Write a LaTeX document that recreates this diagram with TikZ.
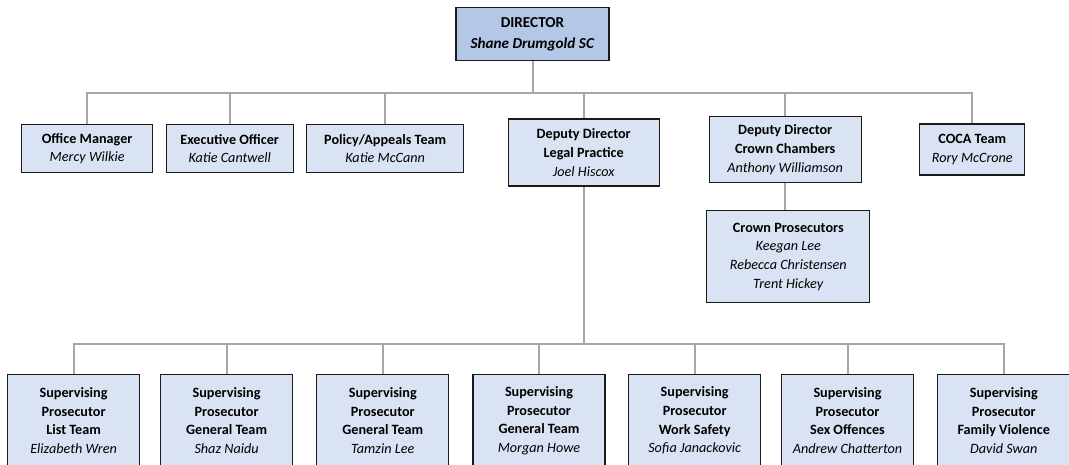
\documentclass[tikz,border=0pt]{standalone}
\usepackage{fontspec}
\setmainfont{Carlito}
\usepackage{xcolor}
\usepackage{tikz}
\usetikzlibrary{positioning,calc}
\definecolor{OrgHead}{HTML}{B4C7E7}
\definecolor{OrgFill}{HTML}{DAE3F3}
\definecolor{OrgLine}{HTML}{A6A6A6}
\definecolor{OrgEdge}{HTML}{1A1A1A}

\begin{document}
\begin{tikzpicture}[x=1pt, y=-1pt,
  unit/.style={draw=OrgEdge, line width=1.2pt, fill=OrgFill, anchor=north, align=center, inner sep=0pt,
    font=\fontsize{14.2}{18.7}\selectfont},
  head/.style={unit, fill=OrgHead, font=\fontsize{15.2}{21}\selectfont},
  super/.style={unit, minimum width=132pt, minimum height=92pt},
  link/.style={line width=2pt, OrgLine}]
\clip (0,0) rectangle (1069,464);

\node[head, minimum width=153pt, minimum height=53pt] (director) at (532.5,7) {\textbf{DIRECTOR}\\\textbf{\textit{Shane Drumgold SC}}};

\node[unit, minimum width=131pt, minimum height=48pt] (office) at (87.2,124) {\textbf{Office Manager}\\\textit{Mercy Wilkie}};
\node[unit, minimum width=127pt, minimum height=48pt] (exec) at (229.7,124) {\textbf{Executive Officer}\\\textit{Katie Cantwell}};
\node[unit, minimum width=157pt, minimum height=48pt] (policy) at (385.2,124) {\textbf{Policy/Appeals Team}\\\textit{Katie McCann}};
\node[unit, minimum width=151pt, minimum height=67pt] (legal) at (583.7,118.3) {\textbf{Deputy Director}\\\textbf{Legal Practice}\\\textit{Joel Hiscox}};
\node[unit, minimum width=152pt, minimum height=66pt] (chambers) at (785.2,116) {\textbf{Deputy Director}\\\textbf{Crown Chambers}\\\textit{Anthony Williamson}};
\node[unit, minimum width=105pt, minimum height=51pt] (coca) at (972.3,123.3) {\textbf{COCA Team}\\\textit{Rory McCrone}};

\node[unit, minimum width=163pt, minimum height=92pt] (crownpros) at (788.3,210) {\textbf{Crown Prosecutors}\\\textit{Keegan Lee}\\\textit{Rebecca Christensen}\\\textit{Trent Hickey}};

% supervising prosecutors
\node[super] (listteam) at (73.6,374) {\textbf{Supervising}\\\textbf{Prosecutor}\\\textbf{List Team}\\\textit{Elizabeth Wren}};
\node[super] (general1) at (226.6,374) {\textbf{Supervising}\\\textbf{Prosecutor}\\\textbf{General Team}\\\textit{Shaz Naidu}};
\node[super] (general2) at (382.8,374) {\textbf{Supervising}\\\textbf{Prosecutor}\\\textbf{General Team}\\\textit{Tamzin Lee}};
\node[super] (general3) at (539,374) {\textbf{Supervising}\\\textbf{Prosecutor}\\\textbf{General Team}\\\textit{Morgan Howe}};
\node[super] (worksafety) at (694.7,374) {\textbf{Supervising}\\\textbf{Prosecutor}\\\textbf{Work Safety}\\\textit{Sofia Janackovic}};
\node[super] (sexoff) at (847.5,374) {\textbf{Supervising}\\\textbf{Prosecutor}\\\textbf{Sex Offences}\\\textit{Andrew Chatterton}};
\node[super] (familyviol) at (1003.8,374) {\textbf{Supervising}\\\textbf{Prosecutor}\\\textbf{Family Violence}\\\textit{David Swan}};

\coordinate (bus1) at (director.south |- 0,92.5);
\coordinate (bus2) at (legal.south |- 0,344.3);

\draw[link] (director.south) -- (bus1);
\foreach \n in {office,exec,policy,legal,chambers,coca}
  \draw[link] (bus1) -| (\n.north);
\draw[link] (chambers.south) -- (chambers.south |- crownpros.north);

\draw[link] (legal.south) -- (bus2);
\foreach \n in {listteam,general1,general2,general3,worksafety,sexoff,familyviol}
  \draw[link] (bus2) -| (\n.north);
\end{tikzpicture}
\end{document}
